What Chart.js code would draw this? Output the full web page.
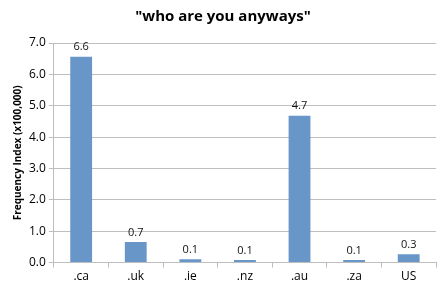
<!DOCTYPE html>
<html>
<head>
<meta charset="utf-8">
<script src="https://cdn.jsdelivr.net/npm/chart.js@4"></script>
<style>
  html, body { margin: 0; padding: 0; background: #fff; }
  #wrap { width: 442px; height: 291px; }
</style>
</head>
<body>
<div id="wrap"><canvas id="chart"></canvas></div>
<script>
/* data */
const domains = ['.ca', '.uk', '.ie', '.nz', '.au', '.za', 'US'];
const freqIndex = [6.56, 0.66, 0.11, 0.08, 4.68, 0.08, 0.27];
const yTicks = [0, 1, 2, 3, 4, 5, 6, 7];

const FONT = 'Open Sans, Liberation Sans, sans-serif';
const BAR = '#6896C9';
const GRID = '#BEBEBE';

/* value labels above bars */
const barLabels = {
  id: 'barLabels',
  afterDatasetsDraw(chart) {
    const ctx = chart.ctx;
    const meta = chart.getDatasetMeta(0);
    ctx.save();
    ctx.font = '11px ' + FONT;
    ctx.fillStyle = '#111';
    ctx.textAlign = 'center';
    ctx.textBaseline = 'bottom';
    meta.data.forEach((bar, i) => {
      ctx.fillText(freqIndex[i].toFixed(1), bar.x, bar.y - 4);
    });
    ctx.restore();
  }
};

new Chart(document.getElementById('chart'), {
  type: 'bar',
  data: {
    labels: domains,
    datasets: [{ data: freqIndex, backgroundColor: BAR, borderWidth: 0,
      categoryPercentage: 1, barPercentage: 0.4 }]
  },
  options: {
    responsive: true, maintainAspectRatio: false, animation: false,
    layout: { padding: { top: 4, right: 6, left: 10, bottom: 5 } },
    plugins: {
      legend: { display: false },
      tooltip: { enabled: false },
      title: { display: true, text: '"who are you anyways"', color: '#000',
        font: { family: FONT, size: 15, weight: 'bold' }, padding: { top: 4, bottom: 17 } }
    },
    scales: {
      x: {
        grid: { display: true, drawOnChartArea: false, color: GRID, tickLength: 5, offset: true },
        border: { color: GRID },
        ticks: { color: '#000', font: { family: FONT, size: 12 }, padding: 2 }
      },
      y: {
        min: 0, max: 7,
        afterBuildTicks: axis => { axis.ticks = yTicks.map(v => ({ value: v })); },
        grid: { color: GRID, tickLength: 5 },
        border: { color: GRID },
        title: { display: true, text: 'Frequency Index (x100,000)', color: '#000',
          font: { family: FONT, size: 10, weight: 'bold' }, padding: 2 },
        ticks: { color: '#000', font: { family: FONT, size: 12 }, padding: 3,
          callback: v => v.toFixed(1) }
      }
    }
  },
  plugins: [barLabels]
});
</script>
</body>
</html>
